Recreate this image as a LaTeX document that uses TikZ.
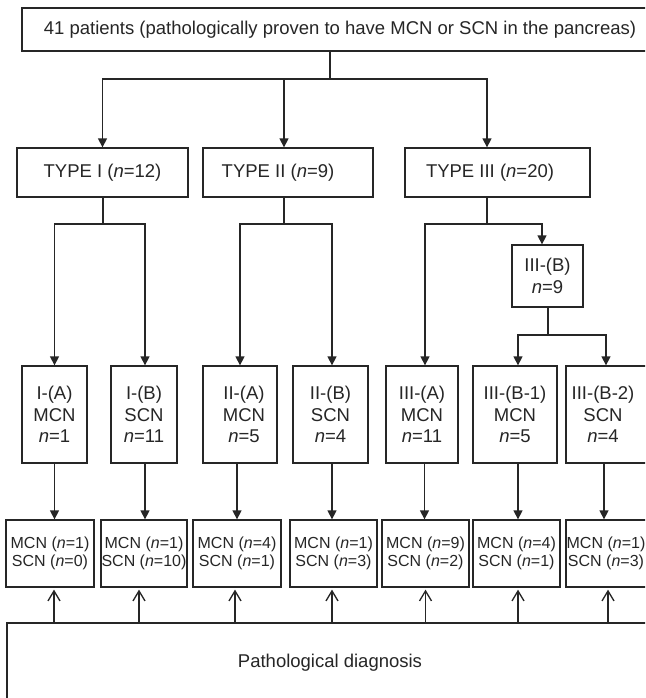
\documentclass[tikz,border=0pt]{standalone}
\usepackage{fontspec}
\setmainfont{Liberation Sans}
\usetikzlibrary{arrows.meta}
\definecolor{inkc}{HTML}{262626}
\newcommand\fsmain{\fontsize{18.5}{21.5}\selectfont}
\newcommand\fssmall{\fontsize{16}{18.3}\selectfont}
\newcommand\nn{\textit{n}}
\tikzset{
  box/.style={draw=inkc, line width=1.3pt, inner sep=0pt, align=center, font=\fsmain, text=inkc},
  sbox/.style={box, font=\fssmall},
  txt/.style={inner sep=0pt, align=center, font=\fsmain, text=inkc},
  stxt/.style={txt, font=\fssmall},
  ln/.style={draw=inkc, line width=1.3pt},
  arr/.style={ln, -{Triangle[length=9pt,width=9pt]}},
  oarr/.style={ln, -{Straight Barb[length=10pt,width=12pt]}, shorten >=2pt},
}
\begin{document}
\begin{tikzpicture}[x=1pt,y=1pt]
\useasboundingbox (0,0) rectangle (645,-698);
\clip (0,0) rectangle (645,-698);
\fill[white] (0,0) rectangle (645,-698);

% top
\node[box, minimum width=636, minimum height=43] (top) at (340,-29.5)
  {41 patients (pathologically proven to have MCN or SCN in the pancreas)};

% types
\node[box, minimum width=171, minimum height=49] (t1) at (102.5,-172.5) {TYPE I (\nn=12)};
\node[box, minimum width=170, minimum height=49] (t2) at (288,-172.5) {TYPE II (\nn=9)\kern20pt};
\node[box, minimum width=185, minimum height=49] (t3) at (497.5,-172.5) {TYPE III (\nn=20)\kern15pt};

% III-(B)
\node[box, minimum width=71, minimum height=62] (b) at (547.5,-276) {III-(B)\\\nn=9};

% middle boxes
\node[box, minimum width=65, minimum height=97] (m1) at (54.5,-414.5) {I-(A)\\MCN\\\nn=1};
\node[box, minimum width=66, minimum height=97] (m2) at (144,-414.5) {I-(B)\\SCN\\\nn=11};
\node[box, minimum width=74, minimum height=97] (m3) at (240,-414.5) {\kern8pt II-(A)\\\kern8pt MCN\\\kern8pt\nn=5};
\node[box, minimum width=75, minimum height=97] (m4) at (330.5,-414.5) {II-(B)\\SCN\\\nn=4};
\node[box, minimum width=72, minimum height=97] (m5) at (422,-414.5) {III-(A)\\MCN\\\nn=11};
\node[box, minimum width=84, minimum height=97] (m6) at (515,-414.5) {III-(B-1)\\MCN\\\nn=5};
\node[box, minimum width=94, minimum height=97] (m7) at (613,-414.5) {};
\node[txt] (m7t) at (603,-414.5) {III-(B-2)\\SCN\\\nn=4};

% bottom boxes
\node[sbox, minimum width=88, minimum height=67] (b1) at (50,-553.5) {MCN (\nn=1)\\SCN (\nn=0)};
\node[sbox, minimum width=86, minimum height=67] (b2) at (144,-553.5) {MCN (\nn=1)\\SCN (\nn=10)};
\node[sbox, minimum width=88, minimum height=67] (b3) at (237,-553.5) {MCN (\nn=4)\\SCN (\nn=1)};
\node[sbox, minimum width=87, minimum height=67] (b4) at (333.5,-553.5) {MCN (\nn=1)\\SCN (\nn=3)};
\node[sbox, minimum width=87, minimum height=67] (b5) at (425.5,-553.5) {MCN (\nn=9)\\SCN (\nn=2)};
\node[sbox, minimum width=87, minimum height=67] (b6) at (516.5,-553.5) {MCN (\nn=4)\\SCN (\nn=1)};
\node[sbox, minimum width=90, minimum height=67] (b7) at (611,-553.5) {};
\node[stxt] (b7t) at (606,-553.5) {MCN (\nn=1)\\SCN (\nn=3)};

% pathological diagnosis
\node[box, minimum width=646, minimum height=79] (pd) at (330,-662.5) {Pathological diagnosis};

% junctions
\coordinate (j0) at (330,-79);
\coordinate (j1) at (103,-224);
\coordinate (j2) at (284,-224);
\coordinate (j3) at (487,-224);
\coordinate (j4) at (548,-335);

% top to types
\draw[ln] (top.south -| j0) -- (j0);
\draw[arr] (j0) -| (t1.north);
\draw[arr] (j0) -| ([xshift=-4pt]t2.north);
\draw[arr] (j0) -| ([xshift=-10.5pt]t3.north);

% type I
\draw[ln] (t1.south -| j1) -- (j1);
\draw[arr] (j1) -| (m1.north);
\draw[arr] (j1) -| ([xshift=1pt]m2.north);
% type II
\draw[ln] (t2.south -| j2) -- (j2);
\draw[arr] (j2) -| (m3.north);
\draw[arr] (j2) -| ([xshift=1.5pt]m4.north);
% type III
\draw[ln] (t3.south -| j3) -- (j3);
\draw[arr] (j3) -| ([xshift=3pt]m5.north);
\draw[arr] (j3) -| ([xshift=-5.5pt]b.north);
% III-(B)
\coordinate (m7n) at ([xshift=3pt]m7t.north |- m7.north);
\draw[ln] (b.south -| j4) -- (j4);
\draw[arr] (j4) -| ([xshift=3pt]m6.north);
\draw[arr] (j4) -| (m7n);

% middle to bottom
\coordinate (d2) at ([xshift=1pt]m2.south);
\coordinate (d4) at ([xshift=1.5pt]m4.south);
\coordinate (d5) at ([xshift=2.5pt]m5.south);
\coordinate (d6) at ([xshift=3pt]m6.south);
\coordinate (d7) at ([xshift=1pt]m7t.south |- m7.south);
\draw[arr] (m1.south) -- (m1.south |- b1.north);
\draw[arr] (d2) -- (d2 |- b2.north);
\draw[arr] (m3.south -| b3.north) -- (b3.north);
\draw[arr] (d4) -- (d4 |- b4.north);
\draw[arr] (d5) -- (d5 |- b5.north);
\draw[arr] (d6) -- (d6 |- b6.north);
\draw[arr] (d7) -- (d7 |- b7.north);

% pathological diagnosis up to bottom boxes
\coordinate (u1) at ([xshift=4pt]b1.south);
\coordinate (u2) at ([xshift=-5pt]b2.south);
\coordinate (u3) at ([xshift=-2pt]b3.south);
\coordinate (u4) at ([xshift=-1.5pt]b4.south);
\coordinate (u5) at (b5.south);
\coordinate (u6) at ([xshift=1.5pt]b6.south);
\coordinate (u7) at ([xshift=2pt]b7t.south |- b7.south);
\foreach \u in {u1,u2,u3,u4,u5,u6,u7}
  \draw[oarr] (pd.north -| \u) -- (\u);
\end{tikzpicture}
\end{document}
